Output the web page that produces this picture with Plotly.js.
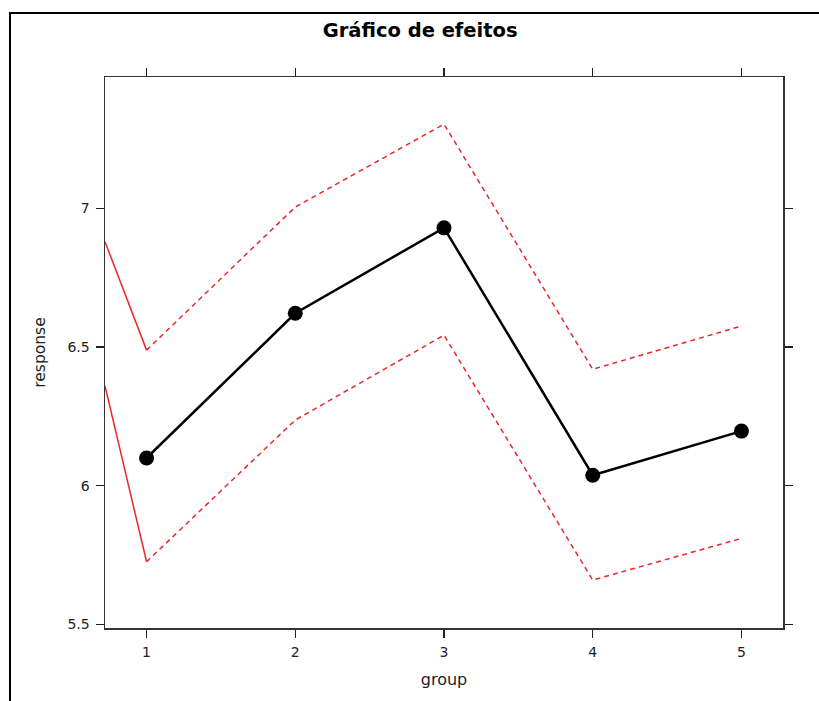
<!DOCTYPE html>
<html>
<head>
<meta charset="utf-8">
<script src="https://cdn.plot.ly/plotly-3.0.1.min.js"></script>
<style>
  html, body { margin: 0; padding: 0; background: #fff; }
  #wrap { position: relative; width: 819px; height: 701px; }
  #chart { position: absolute; left: 0; top: 0; width: 819px; height: 701px; }
  #frame { position: absolute; left: 9px; top: 12px; width: 830px; height: 720px;
           border-left: 2px solid #000; border-top: 2px solid #000; pointer-events: none; }
</style>
</head>
<body>
<div id="wrap">
  <div id="chart"></div>
  <div id="frame"></div>
</div>
<script>
// Data
var groups = [1, 2, 3, 4, 5];
var effect = [6.10, 6.622, 6.93, 6.038, 6.197];
var upper = [6.489, 7.005, 7.304, 6.42, 6.576];
var lower = [5.726, 6.237, 6.543, 5.66, 5.81];
// solid red segments entering from the left edge of the panel
var edgeX = [0.7205, 1];
var edgeUpper = [6.880, 6.489];
var edgeLower = [6.360, 5.726];
var tickVals = [1, 2, 3, 4, 5];
var yTickVals = [5.5, 6, 6.5, 7];
var yTickText = ['5.5', '6', '6.5', '7'];

var red = '#e8282a';
var FONT = 'DejaVu Sans, Arial, sans-serif';
var traces = [
  { x: edgeX, y: edgeUpper, mode: 'lines', line: { color: red, width: 1.5 }, hoverinfo: 'skip' },
  { x: edgeX, y: edgeLower, mode: 'lines', line: { color: red, width: 1.5 }, hoverinfo: 'skip' },
  { x: groups, y: upper, mode: 'lines', line: { color: red, width: 1.5, dash: '5px,4px' } },
  { x: groups, y: lower, mode: 'lines', line: { color: red, width: 1.5, dash: '5px,4px' } },
  { x: groups, y: effect, mode: 'lines+markers', line: { color: '#000', width: 2.5 },
    marker: { color: '#000', size: 15 } }
];

var axisCommon = {
  showgrid: false, zeroline: false, showline: true, linecolor: '#333', linewidth: 1.5,
  mirror: 'ticks', ticks: 'outside', ticklen: 8, tickwidth: 1.5, tickcolor: '#222',
  ticklabelstandoff: 3,
  tickfont: { family: FONT, size: 14, color: '#222' }
};

var layout = {
  width: 819, height: 701,
  margin: { l: 104.7, r: 35.7, t: 76.7, b: 73.3 },
  paper_bgcolor: '#fff', plot_bgcolor: '#fff',
  showlegend: false,
  title: { text: '<b>Gráfico de efeitos</b>', x: 0.513, xanchor: 'center', y: 0.957, yanchor: 'middle',
           font: { family: FONT, size: 19.5, color: '#000' } },
  xaxis: Object.assign({}, axisCommon, {
    range: [0.7205, 5.2795], tickvals: tickVals, ticktext: tickVals.map(String),
    title: { text: 'group', standoff: 14, font: { family: FONT, size: 16, color: '#222' } }
  }),
  yaxis: Object.assign({}, axisCommon, {
    range: [5.487, 7.474], tickvals: yTickVals, ticktext: yTickText,
    title: { text: 'response', standoff: 18, font: { family: FONT, size: 15.5, color: '#222' } }
  })
};

Plotly.newPlot('chart', traces, layout, { displayModeBar: false, staticPlot: true });
</script>
</body>
</html>
